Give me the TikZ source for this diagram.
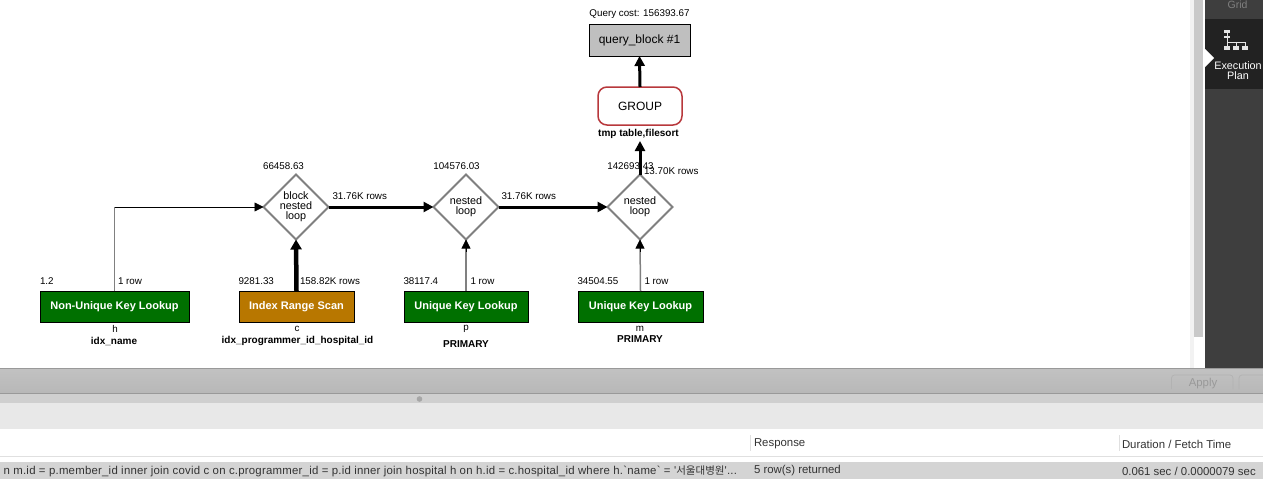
\documentclass[tikz,border=0pt]{standalone}
\usepackage{fontspec}
\setmainfont{Liberation Sans}
\newfontfamily\rawfont{Liberation Sans}[LetterSpace=2]
\newfontfamily\cjkfont{Noto Sans CJK KR}
\usetikzlibrary{arrows.meta,shapes.geometric,calc}
\definecolor{opgreen}{HTML}{007000}
\definecolor{opamber}{HTML}{B87700}
\definecolor{groupred}{HTML}{B8383C}
\definecolor{shaftgray}{HTML}{808080}
\definecolor{sideA}{HTML}{3E3E3E}
\definecolor{sideB}{HTML}{222222}
\tikzset{
  x=1pt,y=-1pt,
  every node/.style={inner sep=0pt,outer sep=0pt},
  lbl/.style={font=\fontsize{9.8}{11}\selectfont,text=black},
  lblb/.style={font=\fontsize{10}{11}\selectfont\bfseries,text=black},
  opbox/.style={draw=black,line width=0.8pt,minimum height=31pt,text=white,font=\fontsize{11}{12}\selectfont\bfseries},
  joinnode/.style={diamond,aspect=1,draw=shaftgray,line width=1.8pt,fill=white,minimum width=65pt,minimum height=65pt,align=center,font=\fontsize{10.8}{10}\selectfont},
  arrowfat/.style={line width=4.5pt,-{Triangle[length=10pt,width=11pt]}},
  arrowmid/.style={line width=3pt,-{Triangle[length=10pt,width=10pt]}},
  arrowthin/.style={line width=1.5pt,draw=shaftgray},
  tipthin/.style={line width=0.8pt,-{Triangle[length=9pt,width=9pt]}},
  uilbl/.style={font=\fontsize{11.4}{13}\selectfont,text=black!80,anchor=west},
}
\begin{document}
\begin{tikzpicture}
\useasboundingbox (0,0) rectangle (1263,479);
\fill[white] (0,0) rectangle (1263,479);
% right column
\fill[black!5] (1190,0) rectangle (1194,368);
\fill[black!21] (1194,0) rectangle (1203,337);
\fill[sideA] (1205,0) rectangle (1263,368);
\fill[sideB] (1205,19) rectangle (1263,89);
\fill[white] (1205,49) -- (1214,58) -- (1205,67) -- cycle;
\node[font=\fontsize{10.5}{12}\selectfont,text=black!50] (gridtab) at (1237.5,5) {Grid};
\node[font=\fontsize{10.8}{10.5}\selectfont,text=white,align=center] (plantab) at (1238,70.5) {Execution\\Plan};
% plan icon
\begin{scope}[white!90!black]
\fill (1224,30) rectangle (1229.5,33);
\fill (1224,35.5) rectangle (1229.5,38);
\draw[line width=0.8pt] (1227,33) -- (1227,46);
\draw[line width=0.8pt] (1227,42) -- (1245,42);
\draw[line width=0.8pt] (1236,42) -- (1236,46);
\draw[line width=0.8pt] (1245,42) -- (1245,46);
\fill (1224,46) rectangle (1230,50);
\fill (1233,46) rectangle (1239,50);
\fill (1242,46) rectangle (1248,50);
\end{scope}
% lower panels
\shade[top color=black!24,bottom color=black!28] (0,368) rectangle (1263,393);
\draw[black!40,line width=0.8pt] (0,368.5) -- (1263,368.5);
\draw[black!40,line width=0.8pt] (0,393.5) -- (1263,393.5);
\fill[black!19] (0,394) rectangle (1263,403);
\fill[black!35] (419.5,399) circle (2.8);
\fill[black!9] (0,403) rectangle (1263,429);
\draw[black!12,line width=0.8pt] (0,456.8) -- (1263,456.8);
\fill[black!17] (0,462) rectangle (1263,479);
% apply button
\draw[black!30,line width=0.7pt,rounded corners=3pt] (1171.5,389) -- (1171.5,375) -- (1233,375) -- (1233,389);
\draw[black!30,line width=0.7pt,rounded corners=3pt] (1239,389) -- (1239,375) -- (1263,375);
\node[font=\fontsize{11.4}{13}\selectfont,text=black!40] (applybtn) at (1203,384) {Apply};
% columns
\draw[black!12,line width=0.8pt] (750.5,435) -- (750.5,451);
\draw[black!12,line width=0.8pt] (1119,435) -- (1119,451);
\node[uilbl] (resp) at (754,444) {Response};
\node[uilbl] (dur) at (1122,444) {Duration / Fetch Time};
\node[uilbl,anchor=east] (q) at (737,471) {\rawfont n m.id = p.member\_id inner join covid c on c.programmer\_id = p.id inner join hospital h on h.id = c.hospital\_id where h.`name` = '{\cjkfont\fontsize{10.5}{12}\selectfont 서울대병원}'...};
\node[uilbl] (rowsret) at (754,471) {5 row(s) returned};
\node[uilbl] (time) at (1122,471) {0.061 sec / 0.0000079 sec};
% operator boxes
\node[opbox,fill=opgreen,minimum width=149pt] (h) at (114.5,306.5) {Non-Unique Key Lookup};
\node[opbox,fill=opamber,minimum width=115pt] (c) at (296.5,306.5) {Index Range Scan};
\node[opbox,fill=opgreen,minimum width=124pt] (p) at (466,306.5) {Unique Key Lookup};
\node[opbox,fill=opgreen,minimum width=125pt] (m) at (640.5,306.5) {Unique Key Lookup};
% join diamonds
\node[joinnode] (bnl) at (296,207) {block\\nested\\loop};
\node[joinnode] (nl1) at (466,207) {nested\\loop};
\node[joinnode] (nl2) at (640,207) {nested\\loop};
% top boxes
\node[draw=groupred,line width=1.5pt,rounded corners=9pt,fill=white,minimum width=84pt,minimum height=38pt,font=\fontsize{12}{14}\selectfont] (group) at (640,106) {GROUP};
\node[draw=black,line width=0.8pt,fill=black!25,minimum width=101pt,minimum height=32pt,font=\fontsize{12}{14}\selectfont] (qb) at (639.5,40) {query\_block \#1};
% connectors
\coordinate (hturn) at (h.north |- bnl.west);
\draw[arrowthin] (h.north) -- (hturn);
\draw[tipthin] (hturn) -- (bnl.west);
\draw[arrowthin] (p.north) -- (nl1.south);
\draw[tipthin] ($(nl1.south)+(0,12)$) -- (nl1.south);
\draw[arrowthin] (m.north) -- (nl2.south);
\draw[tipthin] ($(nl2.south)+(0,12)$) -- (nl2.south);
\draw[arrowfat] (c.north) -- (bnl.south);
\draw[arrowmid] (bnl.east) -- (nl1.west);
\draw[arrowmid] (nl1.east) -- (nl2.west);
\draw[arrowmid,shorten >=16pt] (nl2.north) -- (group.south);
\draw[arrowmid] (group.north) -- (qb.south);
% labels
\node[lbl] (qcost) at (639.5,14.5) {Query cost: 156393.67};
\node[lblb] (tmpt) at (638.5,133.5) {tmp table,filesort};
\node[lbl] (cost2) at (283.5,166.5) {66458.63};
\node[lbl] (cost3) at (456.5,166.5) {104576.03};
\node[lbl] (cost4) at (630.5,166.5) {142693.43};
\node[lbl,anchor=west] (r4) at (644,171.5) {13.70K rows};
\node[lbl,anchor=west] (r2) at (332.5,196.5) {31.76K rows};
\node[lbl,anchor=west] (r3) at (501.5,196.5) {31.76K rows};
\node[lbl,anchor=west] (c1) at (40,281.5) {1.2};
\node[lbl,anchor=west] (r1) at (118,281.5) {1 row};
\node[lbl,anchor=west] (c2) at (238.5,281.5) {9281.33};
\node[lbl,anchor=west] (r5) at (300,281.5) {158.82K rows};
\node[lbl,anchor=west] (c3) at (403.5,281.5) {38117.4};
\node[lbl,anchor=west] (r6) at (470.5,281.5) {1 row};
\node[lbl,anchor=west] (c4) at (577.5,281.5) {34504.55};
\node[lbl,anchor=west] (r7) at (644.5,281.5) {1 row};
\node[lbl] (th) at (115,329) {h};
\node[lblb] (ih) at (114,341.5) {idx\_name};
\node[lbl] (tc) at (297,328.5) {c};
\node[lblb] (ic) at (297.5,340.5) {idx\_programmer\_id\_hospital\_id};
\node[lbl] (tp) at (466,329) {p};
\node[lblb] (ip) at (466,344) {PRIMARY};
\node[lbl] (tm) at (640,328.5) {m};
\node[lblb] (im) at (640,339.5) {PRIMARY};
\end{tikzpicture}
\end{document}
